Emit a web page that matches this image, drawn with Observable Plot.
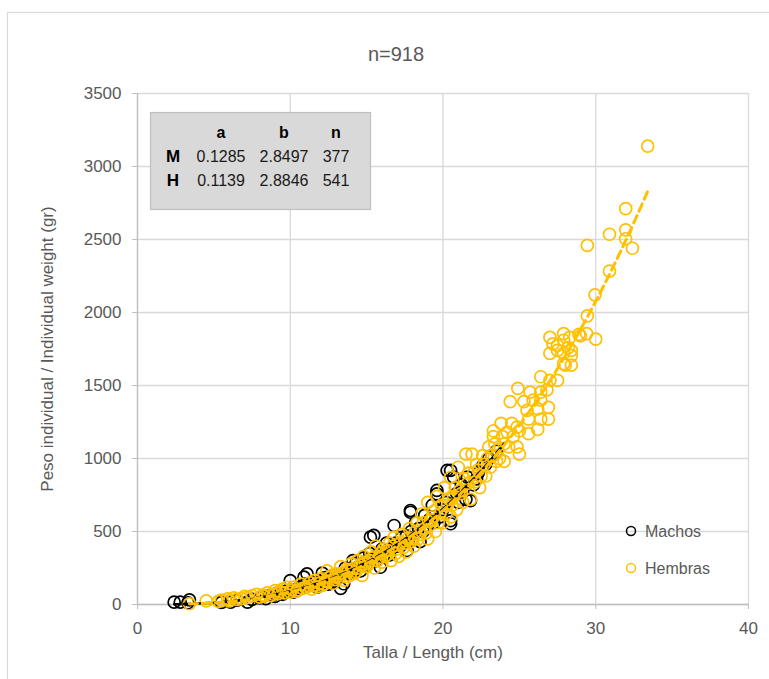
<!DOCTYPE html>
<html>
<head>
<meta charset="utf-8">
<script src="https://cdn.jsdelivr.net/npm/d3@7"></script>
<script src="https://cdn.jsdelivr.net/npm/@observablehq/plot@0.6"></script>
<style>
  html, body { margin: 0; padding: 0; background: #fff; overflow: hidden; }
  #chart { width: 769px; height: 679px; }
</style>
</head>
<body>
<div id="chart"></div>
<script>
// ---- Data ----
const chartTitle = "n=918";
const xLabel = "Talla / Length (cm)";
const yLabel = "Peso individual / Individual weight (gr)";
const xTicks = [0, 10, 20, 30, 40];
const yTicks = [0, 500, 1000, 1500, 2000, 2500, 3000, 3500];

const seriesNames = ["Machos", "Hembras"];
const seriesColors = ["#000000", "#FFC000"];

// Fit table
const tableHeader = ["a", "b", "n"];
const tableRowLabels = ["M", "H"];
const coefA = [0.1285, 0.1139];
const coefB = [2.8497, 2.8846];
const counts = [377, 541];
const lengthRange = [[2.4, 24.1], [3.4, 33.4]];

// Machos: [length cm, weight g]
const machos = [
  [2.4,16],[2.8,16],[3.4,32],[3.3,12],[5.5,15],[6.1,16],[6.5,30],[7.2,16],[7.5,35],[8.0,45],
  [8.4,40],[8.7,62],[9.0,55],[9.2,80],[9.5,70],[9.8,95],[10.0,164],[10.2,85],[10.5,110],[10.9,187],
  [11.1,210],[11.3,130],[11.76,118],[12.0,160],[12.3,185],[12.5,140],[12.8,200],[13.0,170],[13.3,110],[13.5,142],
  [13.6,250],[13.8,210],[14.0,240],[14.3,280],[14.6,230],[14.8,320],[15.0,270],[15.2,350],[15.47,473],[15.6,300],
  [15.9,255],[16.0,380],[16.3,420],[16.5,340],[16.8,541],[17.0,400],[17.3,460],[17.65,370],[17.87,632],[17.87,644],
  [17.9,500],[18.2,560],[18.5,430],[18.8,610],[19.0,540],[19.3,680],[19.6,758],[19.6,781],[19.8,600],[20.27,918],
  [20.5,918],[20.5,553],[20.5,575],[20.7,872],[21.0,700],[21.3,780],[21.6,872],[21.8,712],[22.0,820],[22.3,900],
  [22.6,950],[23.0,1000],[23.5,1050],
  [8.2,55],[8.9,68],[9.4,75],[10.1,100],[10.4,95],[10.7,120],[11.0,140],[11.5,150],[11.9,135],[12.2,165],
  [12.6,175],[12.9,160],[13.2,205],[13.9,225],[14.2,230],[14.5,260],[14.9,290],[15.3,310],[15.8,340],[16.1,330],
  [16.6,380],[16.9,420],[17.2,400],[17.6,470],[18.0,450],[18.4,520],[18.7,500],[19.1,580],[19.4,560],[20.0,650],
  [20.2,700],[20.9,760],[21.2,820],[21.5,720],[22.2,860],[22.8,960],[23.2,1020],[15.25,461],[14.1,300],[12.1,215]
];

// Hembras: [length cm, weight g]
const hembras = [
  [3.4,5],[4.5,25],[5.3,22],[5.5,30],[5.9,38],[6.0,25],[6.3,45],[6.5,35],[6.8,40],[7.0,55],
  [7.2,48],[7.5,60],[7.8,70],[8.0,50],[8.2,65],[8.5,80],[8.7,60],[9.0,95],[9.2,75],[9.5,105],
  [9.8,118],[10.0,85],[10.2,120],[10.5,100],[10.7,140],[11.0,115],[11.3,150],[11.5,130],[11.6,165],[11.8,120],
  [12.0,175],[12.2,140],[12.4,230],[12.5,160],[12.7,200],[12.8,145],[13.0,210],[13.2,180],[13.3,260],[13.5,165],
  [13.7,240],[13.9,200],[14.0,280],[14.2,215],[14.4,300],[14.5,250],[14.7,200],[14.8,330],[15.0,260],[15.2,300],
  [15.3,360],[15.5,250],[15.6,400],[15.8,320],[16.0,290],[16.1,380],[16.3,340],[16.5,420],[16.6,300],[16.8,460],
  [17.0,380],[17.1,330],[17.3,480],[17.5,420],[17.6,360],[17.8,520],[18.0,450],[18.1,400],[18.3,560],[18.5,480],
  [18.6,620],[18.8,520],[19.0,450],[19.0,700],[19.2,580],[19.4,640],[19.5,500],[19.6,740],[19.8,620],[20.0,560],
  [20.1,800],[20.3,680],[20.5,870],[20.5,600],[20.7,740],[20.9,650],[21.0,940],[21.1,780],[21.3,700],[21.5,1030],
  [21.6,830],[21.8,720],[21.9,1030],[22.0,900],[22.2,960],[22.4,800],[22.6,1020],[22.8,880],[23.0,1080],[23.1,940],
  [23.3,1150],[23.3,1190],[23.5,980],[23.6,1060],[23.8,1240],[24.0,1100],[24.0,980],[24.4,1390],[24.5,1240],[24.6,1150],
  [24.85,1215],[24.85,1080],[24.9,1480],[25.0,1190],[25.0,1030],[25.3,1390],[25.5,1330],[25.6,1270],[25.6,1170],[25.7,1455],
  [25.9,1400],[26.2,1340],[26.2,1200],[26.4,1560],[26.4,1455],[26.4,1400],[26.4,1270],[26.8,1470],[26.9,1350],[26.9,1270],
  [27.0,1830],[27.0,1720],[27.0,1535],[27.5,1535],[27.5,1775],[27.2,1785],[27.5,1740],[27.9,1855],[27.9,1810],[27.9,1720],
  [27.9,1650],[28.0,1640],[28.2,1760],[28.3,1830],[28.4,1740],[28.4,1705],[28.4,1640],[28.9,1850],[29.0,1840],[29.4,1855],
  [29.45,1977],[29.45,2460],[30.0,1817],[29.95,2121],[30.9,2283],[30.9,2536],[31.96,2505],[31.96,2566],[31.96,2712],[32.4,2440],
  [33.4,3140],
  [8.3,58],[8.9,70],[9.3,88],[9.6,80],[10.1,100],[10.4,90],[10.8,110],[11.2,125],[11.4,105],[11.9,145],
  [12.1,130],[12.3,160],[12.6,185],[12.9,170],[13.1,195],[13.4,215],[13.6,190],[13.8,230],[14.1,245],[14.3,225],
  [14.6,270],[14.9,290],[15.1,280],[15.4,320],[15.7,300],[15.9,350],[16.2,330],[16.4,370],[16.7,400],[16.9,350],
  [17.2,420],[17.4,390],[17.7,450],[17.9,430],[18.2,500],[18.4,450],[18.7,560],[18.9,490],[19.1,540],[19.3,600],
  [19.7,560],[19.9,680],[20.2,620],[20.4,720],[20.6,680],[20.8,800],[21.2,760],[21.4,860],[21.7,900],[22.1,840],
  [22.3,920],[22.5,880],[22.7,960],[22.9,1000],[23.2,1020],[23.4,1100],[23.7,1000],[23.9,1150],[24.2,1180],[24.3,1080]
];

// ---- Chart ----
const W = 769, H = 679;
const mL = 137, mR = 21, mT = 93, mB = 75;
const font = "'Liberation Sans', Arial, sans-serif";
const textColor = "#595959";

// fitted power curves W = a * L^b (from the table's coefficients)
const trends = [0, 1].map(i => d3.range(lengthRange[i][0], lengthRange[i][1] + 0.001, 0.2)
  .map(L => ({L, W: coefA[i] * Math.pow(L, coefB[i])})));

const plot = Plot.plot({
  width: W, height: H,
  marginLeft: mL, marginRight: mR, marginTop: mT, marginBottom: mB,
  style: {fontFamily: font, fontSize: "16px", color: textColor, background: "#fff", overflow: "visible"},
  x: {domain: [0, 40], ticks: xTicks},
  y: {domain: [0, 3500], ticks: yTicks},
  marks: [
    Plot.gridX(xTicks, {stroke: "#D9D9D9", strokeOpacity: 1, strokeWidth: 1.3}),
    Plot.gridY(yTicks, {stroke: "#D9D9D9", strokeOpacity: 1, strokeWidth: 1.3}),
    Plot.ruleY([0], {stroke: "#BFBFBF", strokeWidth: 1.3}),
    Plot.ruleX([0], {stroke: "#BFBFBF", strokeWidth: 1.3}),
    Plot.axisX(xTicks, {tickSize: 5, tickPadding: 12, stroke: "#BFBFBF", label: null, fill: textColor, fontSize: 17, tickFormat: d => String(d)}),
    Plot.axisY(yTicks, {tickSize: 5, tickPadding: 11, stroke: "#BFBFBF", label: null, fill: textColor, fontSize: 17, tickFormat: d => String(d)}),
    Plot.dot(machos, {x: d => d[0], y: d => d[1], r: 6, stroke: seriesColors[0], strokeWidth: 1.7, fill: "none"}),
    Plot.dot(hembras, {x: d => d[0], y: d => d[1], r: 6, stroke: seriesColors[1], strokeWidth: 1.7, fill: "none"}),
    Plot.line(trends[0], {x: "L", y: "W", stroke: seriesColors[0], strokeWidth: 2.5, strokeDasharray: "6,4"}),
    Plot.line(trends[1], {x: "L", y: "W", stroke: seriesColors[1], strokeWidth: 3, strokeDasharray: "8,5"}),
    Plot.text([xLabel], {frameAnchor: "bottom", dy: 53, dx: -10, text: d => d, fontSize: 17, fill: textColor, textAnchor: "middle"}),
    Plot.text([yLabel], {frameAnchor: "left", dx: -90, rotate: -90, text: d => d, fontSize: 17, fill: textColor, textAnchor: "middle"}),
    Plot.text([chartTitle], {frameAnchor: "top", dy: -47, dx: -47, text: d => d, fontSize: 20, fill: textColor, textAnchor: "middle"})
  ]
});

const svg = d3.select(plot);

// outer chart border
svg.insert("rect", ":first-child")
  .attr("x", 7.5).attr("y", 12.5).attr("width", 800).attr("height", 700)
  .attr("fill", "none").attr("stroke", "#D9D9D9").attr("stroke-width", 1.2);

// fit table box
const tbl = svg.append("g").attr("font-family", font).attr("fill", "#000");
tbl.append("rect").attr("x", 150.5).attr("y", 112.5).attr("width", 220).attr("height", 97)
  .attr("fill", "#D9D9D9").attr("stroke", "#BFBFBF").attr("stroke-width", 1.2);
const colX = [221, 284, 336];
tableHeader.forEach((h, j) => tbl.append("text").attr("x", colX[j]).attr("y", 138)
  .attr("text-anchor", "middle").attr("font-weight", "bold").attr("font-size", 16).text(h));
tableRowLabels.forEach((r, i) => {
  const y = 162 + i * 23.5;
  tbl.append("text").attr("x", 173).attr("y", y).attr("text-anchor", "middle")
    .attr("font-weight", "bold").attr("font-size", 17).text(r);
  [coefA[i].toFixed(4), coefB[i].toFixed(4), String(counts[i])].forEach((v, j) =>
    tbl.append("text").attr("x", colX[j]).attr("y", y).attr("text-anchor", "middle")
      .attr("font-size", 16).attr("fill", "#1a1a1a").text(v));
});

// legend
const leg = svg.append("g").attr("font-family", font);
seriesNames.forEach((name, i) => {
  const y = 531 + i * 37;
  leg.append("circle").attr("cx", 631).attr("cy", y).attr("r", 4.5)
    .attr("fill", "none").attr("stroke", seriesColors[i]).attr("stroke-width", 1.5);
  leg.append("text").attr("x", 645).attr("y", y + 5.5).attr("font-size", 16)
    .attr("text-anchor", "start").attr("fill", textColor).text(name);
});

document.getElementById("chart").appendChild(plot);
</script>
</body>
</html>
